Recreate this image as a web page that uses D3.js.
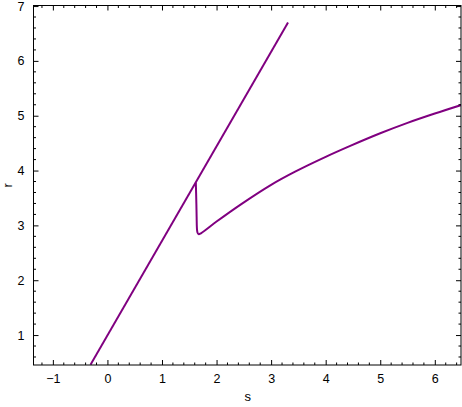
<!DOCTYPE html>
<html>
<head>
<meta charset="utf-8">
<script src="https://cdn.jsdelivr.net/npm/d3@7"></script>
<style>
  html, body { margin: 0; padding: 0; background: #fff; }
  svg { display: block; }
  text { font-family: "Liberation Sans", Arial, sans-serif; }
</style>
</head>
<body>
<svg id="chart" width="462" height="407"></svg>
<script>
// Data
const lineS = [-0.31, 3.31];
const lineR = [0.46, 6.70];

const curveS = [1.62, 1.625, 1.63, 1.635, 1.64, 1.65, 1.67, 1.72, 2.0, 2.44, 3.0, 3.44, 4.0, 4.45, 5.0, 5.5, 6.0, 6.5];
const curveR = [3.78, 3.60, 3.40, 3.15, 2.95, 2.87, 2.84, 2.86, 3.07, 3.38, 3.74, 3.98, 4.25, 4.45, 4.68, 4.87, 5.04, 5.20];

const xTicks = [-1, 0, 1, 2, 3, 4, 5, 6];
const yTicks = [1, 2, 3, 4, 5, 6, 7];
const xLabel = "s";
const yLabel = "r";

(function () {
const svg = d3.select("#chart");
const mL = 33.5, mR = 461, mT = 5.5, mB = 365;
const x = d3.scaleLinear().domain([-1.355, 6.48]).range([mL, mR]);
const y = d3.scaleLinear().domain([0.454, 7.01]).range([mB, mT]);

const color = "#800080";

svg.append("defs").append("clipPath").attr("id", "clip")
  .append("rect").attr("x", mL).attr("y", mT).attr("width", mR - mL).attr("height", mB - mT);

const g = svg.append("g").attr("clip-path", "url(#clip)");
const lineGen = d3.line().x(d => x(d[0])).y(d => y(d[1]));

g.append("path")
  .datum(lineS.map((s, i) => [s, lineR[i]]))
  .attr("d", lineGen)
  .attr("fill", "none").attr("stroke", color).attr("stroke-width", 2);

g.append("path")
  .datum(curveS.map((s, i) => [s, curveR[i]]))
  .attr("d", d3.line().curve(d3.curveCatmullRom.alpha(0.5)).x(d => x(d[0])).y(d => y(d[1])))
  .attr("fill", "none").attr("stroke", color).attr("stroke-width", 2);

const xMinor = d3.range(-1.2, 6.5, 0.2).map(v => +v.toFixed(2)).filter(v => !xTicks.some(t => Math.abs(t - v) < 1e-6));
const yMinor = d3.range(0.6, 7.0, 0.2).map(v => +v.toFixed(2)).filter(v => !yTicks.some(t => Math.abs(t - v) < 1e-6));

const tickColor = "#000";
const bAxis = d3.axisBottom(x).tickValues(xTicks).tickSize(-5).tickPadding(9).tickFormat(d => d < 0 ? "\u2212" + Math.abs(d) : String(d));
const bG = svg.append("g").attr("transform", `translate(0,${mB})`).call(bAxis);
bG.append("g").selectAll("line").data(xMinor).join("line")
  .attr("x1", d => x(d)).attr("x2", d => x(d)).attr("y1", 0).attr("y2", -2.5).attr("stroke", tickColor);
const tAxis = d3.axisTop(x).tickValues(xTicks).tickSize(-5).tickFormat("");
const tG = svg.append("g").attr("transform", `translate(0,${mT})`).call(tAxis);
tG.append("g").selectAll("line").data(xMinor).join("line")
  .attr("x1", d => x(d)).attr("x2", d => x(d)).attr("y1", 0).attr("y2", 2.5).attr("stroke", tickColor);
const lAxis = d3.axisLeft(y).tickValues(yTicks).tickSize(-5).tickPadding(9).tickFormat(d => String(d));
const lG = svg.append("g").attr("transform", `translate(${mL},0)`).call(lAxis);
lG.append("g").selectAll("line").data(yMinor).join("line")
  .attr("y1", d => y(d)).attr("y2", d => y(d)).attr("x1", 0).attr("x2", 2.5).attr("stroke", tickColor);
const rAxis = d3.axisRight(y).tickValues(yTicks).tickSize(-5).tickFormat("");
const rG = svg.append("g").attr("transform", `translate(${mR},0)`).call(rAxis);
rG.append("g").selectAll("line").data(yMinor).join("line")
  .attr("y1", d => y(d)).attr("y2", d => y(d)).attr("x1", 0).attr("x2", -2.5).attr("stroke", tickColor);

svg.selectAll(".tick line").attr("stroke", tickColor);
svg.selectAll(".tick text").attr("font-size", 12.5).attr("fill", "#000")
  .attr("font-family", "Liberation Sans, Arial, sans-serif");

svg.selectAll(".domain").remove();
svg.append("rect").attr("x", mL).attr("y", mT).attr("width", mR - mL).attr("height", mB - mT)
  .attr("fill", "none").attr("stroke", "#000").attr("stroke-width", 1);

svg.append("text").attr("x", (mL + mR) / 2 + 0.5).attr("y", 401)
  .attr("text-anchor", "middle").attr("font-size", 13).attr("fill", "#000").text(xLabel);
svg.append("text").attr("transform", `translate(12,${(mT + mB) / 2}) rotate(-90)`)
  .attr("text-anchor", "middle").attr("font-size", 13).attr("fill", "#000").text(yLabel);
})();
</script>
</body>
</html>
